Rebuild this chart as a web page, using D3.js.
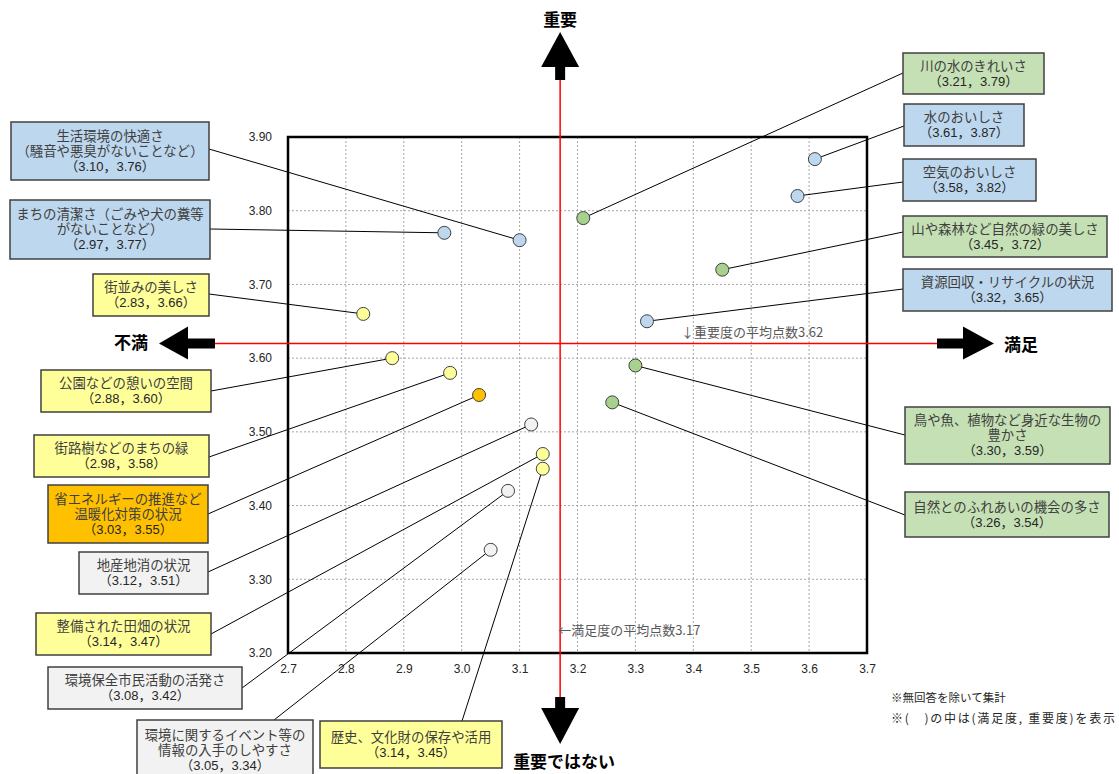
<!DOCTYPE html>
<html>
<head>
<meta charset="utf-8">
<script src="https://cdn.jsdelivr.net/npm/d3@7"></script>
<style>
  body { margin: 0; background: #fff; }
  svg { display: block; }
</style>
</head>
<body>
<svg id="chart" width="1119" height="774"></svg>
<script>
// ---- data -------------------------------------------------------------
// item name, split into the lines shown in its callout box
const itemNames = [
  ["生活環境の快適さ", "（騒音や悪臭がないことなど）"],
  ["まちの清潔さ（ごみや犬の糞等", "がないことなど）"],
  ["街並みの美しさ"],
  ["公園などの憩いの空間"],
  ["街路樹などのまちの緑"],
  ["省エネルギーの推進など", "温暖化対策の状況"],
  ["地産地消の状況"],
  ["整備された田畑の状況"],
  ["環境保全市民活動の活発さ"],
  ["環境に関するイベント等の", "情報の入手のしやすさ"],
  ["歴史、文化財の保存や活用"],
  ["川の水のきれいさ"],
  ["水のおいしさ"],
  ["空気のおいしさ"],
  ["山や森林など自然の緑の美しさ"],
  ["資源回収・リサイクルの状況"],
  ["鳥や魚、植物など身近な生物の", "豊かさ"],
  ["自然とのふれあいの機会の多さ"]
];
// 満足度 (x)
const satisfaction = [3.10, 2.97, 2.83, 2.88, 2.98, 3.03, 3.12, 3.14, 3.08, 3.05, 3.14,
                      3.21, 3.61, 3.58, 3.45, 3.32, 3.30, 3.26];
// 重要度 (y)
const importance   = [3.76, 3.77, 3.66, 3.60, 3.58, 3.55, 3.51, 3.47, 3.42, 3.34, 3.45,
                      3.79, 3.87, 3.82, 3.72, 3.65, 3.59, 3.54];
// colour group of each item
const itemGroups   = ["blue", "blue", "yellow", "yellow", "yellow", "orange", "grey", "yellow", "grey", "grey", "yellow",
                      "green", "blue", "blue", "green", "blue", "green", "green"];

const xTickValues = [2.7, 2.8, 2.9, 3.0, 3.1, 3.2, 3.3, 3.4, 3.5, 3.6, 3.7];
const yTickValues = [3.2, 3.3, 3.4, 3.5, 3.6, 3.7, 3.8, 3.9];

const meanSatisfaction = 3.17;
const meanImportance = 3.62;

const quadrantLabels = { up: "重要", down: "重要ではない", left: "不満", right: "満足" };
const meanLabels = { importance: "↓重要度の平均点数", satisfaction: "←満足度の平均点数" };
const notes = ["※無回答を除いて集計", "※(　)の中は(満足度, 重要度)を表示"];

// ---- styles / layout ----------------------------------------------------
const groupColors = {
  blue:   { box: "#bdd7ee", dot: "#bdd7ee" },
  green:  { box: "#c5e0b4", dot: "#a9d18e" },
  yellow: { box: "#ffff99", dot: "#ffff99" },
  orange: { box: "#ffc000", dot: "#ffc000" },
  grey:   { box: "#f2f2f2", dot: "#f2f2f2" }
};

// callout boxes: [x, y, w, h, side the leader leaves from, offset along that side]
const callouts = [
  [11, 122, 198, 58, "right", 27],
  [10, 200, 200, 59, "right", 29],
  [93, 274, 116, 42, "right", 20],
  [41, 370, 170, 42, "right", 21],
  [34, 435, 175, 42, "right", 22],
  [48, 485, 160, 58, "right", 29],
  [79, 552, 129, 42, "right", 20],
  [36, 613, 175, 42, "right", 21],
  [48, 667, 194, 42, "right", 21],
  [137, 720, 176, 60, "top", 137],
  [320, 721, 182, 47, "top", 142],
  [903, 53, 141, 41, "left", 20],
  [904, 104, 120, 42, "left", 22],
  [903, 159, 133, 42, "left", 23],
  [903, 216, 204, 41, "left", 16],
  [903, 269, 209, 42, "left", 20],
  [905, 407, 205, 57, "left", 28],
  [905, 492, 204, 45, "left", 23]
];

const CJK = "'Noto Sans CJK JP', 'Noto Sans', sans-serif";
const LATIN = "'Liberation Sans', Arial, sans-serif";
const BOXFONT = "'Liberation Sans', 'Noto Sans CJK JP', sans-serif";

const svg = d3.select("#chart");

const plot = { left: 288, right: 867, top: 137, bottom: 653 };
const x = d3.scaleLinear().domain([2.7, 3.7]).range([plot.left, plot.right]);
const y = d3.scaleLinear().domain([3.2, 3.9]).range([plot.bottom, plot.top]);

// ---- grid ---------------------------------------------------------------
const grid = svg.append("g").attr("stroke", "#a6a6a6").attr("stroke-width", 1)
  .attr("stroke-dasharray", "2,2").attr("fill", "none");
grid.selectAll("line.gx").data(xTickValues.slice(1, -1)).join("line")
  .attr("x1", d => x(d)).attr("x2", d => x(d))
  .attr("y1", plot.top).attr("y2", plot.bottom);
grid.selectAll("line.gy").data(yTickValues.slice(1, -1)).join("line")
  .attr("y1", d => y(d)).attr("y2", d => y(d))
  .attr("x1", plot.left).attr("x2", plot.right);

// ---- axes ---------------------------------------------------------------
const yAxis = svg.append("g").attr("transform", `translate(${plot.left},0)`)
  .call(d3.axisLeft(y).tickValues(yTickValues).tickSize(0).tickPadding(16).tickFormat(d3.format(".2f")));
const xAxis = svg.append("g").attr("transform", `translate(0,${plot.bottom})`)
  .call(d3.axisBottom(x).tickValues(xTickValues).tickSize(0).tickPadding(11).tickFormat(d3.format(".1f")));
[xAxis, yAxis].forEach(a => {
  a.select(".domain").remove();
  a.selectAll("text").attr("font-family", LATIN).attr("font-size", 12).attr("fill", "#262626");
});

// plot frame
svg.append("rect")
  .attr("x", plot.left).attr("y", plot.top)
  .attr("width", plot.right - plot.left).attr("height", plot.bottom - plot.top)
  .attr("fill", "none").attr("stroke", "#000").attr("stroke-width", 2.5);

// ---- mean lines ---------------------------------------------------------
const mx = x(meanSatisfaction), my = y(meanImportance);
svg.append("line").attr("x1", mx).attr("x2", mx).attr("y1", 80).attr("y2", 697)
  .attr("stroke", "#ff0000").attr("stroke-width", 1.5);
svg.append("line").attr("x1", 215).attr("x2", 937).attr("y1", my).attr("y2", my)
  .attr("stroke", "#ff0000").attr("stroke-width", 1.5);

// ---- direction arrows ---------------------------------------------------
const arrows = svg.append("g").attr("fill", "#000");
// up
arrows.append("path").attr("d",
  `M${mx - 5},80 L${mx - 5},67 L${mx - 19},67 L${mx},32 L${mx + 19},67 L${mx + 5},67 L${mx + 5},80 Z`);
// down
arrows.append("path").attr("d",
  `M${mx - 5},697 L${mx - 5},708 L${mx - 19},708 L${mx},744 L${mx + 19},708 L${mx + 5},708 L${mx + 5},697 Z`);
// left
arrows.append("path").attr("d",
  `M215,${my - 5} L188,${my - 5} L188,${my - 17} L159,${my} L188,${my + 16} L188,${my + 5} L215,${my + 5} Z`);
// right
arrows.append("path").attr("d",
  `M937,${my - 5} L963,${my - 5} L963,${my - 17} L994,${my} L963,${my + 16} L963,${my + 5} L937,${my + 5} Z`);

const dirText = (t, px, py) => svg.append("text").text(t)
  .attr("x", px).attr("y", py).attr("text-anchor", "middle").attr("dominant-baseline", "central")
  .attr("font-family", CJK).attr("font-size", 17).attr("font-weight", 700).attr("fill", "#000");
dirText(quadrantLabels.up, mx, 18);
dirText(quadrantLabels.down, mx + 4, 760);
dirText(quadrantLabels.left, 131, my - 2);
dirText(quadrantLabels.right, 1021, my);

// mean labels
svg.append("text").text(meanLabels.importance + meanImportance.toFixed(2))
  .attr("x", 681).attr("y", my - 12).attr("dominant-baseline", "central")
  .attr("font-family", CJK).attr("font-size", 13).attr("fill", "#595959");
svg.append("text").text(meanLabels.satisfaction + meanSatisfaction.toFixed(2))
  .attr("x", mx - 2).attr("y", 629).attr("dominant-baseline", "central")
  .attr("font-family", CJK).attr("font-size", 13).attr("fill", "#595959");

// ---- callouts -----------------------------------------------------------
const items = satisfaction.map((s, i) => ({
  s, v: importance[i], lines: itemNames[i], group: itemGroups[i], box: callouts[i]
}));

const anchorOf = b => {
  const [bx, by, bw, bh, side, off] = b;
  if (side === "right") return [bx + bw, by + off];
  if (side === "left") return [bx, by + off];
  return [bx + off, by];
};

// leader lines
svg.append("g").selectAll("line").data(items).join("line")
  .attr("x1", d => anchorOf(d.box)[0]).attr("y1", d => anchorOf(d.box)[1])
  .attr("x2", d => x(d.s)).attr("y2", d => y(d.v))
  .attr("stroke", "#000").attr("stroke-width", 1);

// boxes with text
const boxG = svg.append("g").selectAll("g").data(items).join("g");
boxG.append("rect")
  .attr("x", d => d.box[0]).attr("y", d => d.box[1])
  .attr("width", d => d.box[2]).attr("height", d => d.box[3])
  .attr("fill", d => groupColors[d.group].box)
  .attr("stroke", "#404040").attr("stroke-width", 1.5);

const LH = 15;
boxG.each(function (d) {
  const lines = d.lines.concat([`（${d.s.toFixed(2)}，${d.v.toFixed(2)}）`]);
  const cx = d.box[0] + d.box[2] / 2;
  const cy = d.box[1] + d.box[3] / 2;
  const first = cy - (lines.length - 1) * LH / 2;
  d3.select(this).selectAll("text").data(lines).join("text")
    .text(t => t)
    .attr("x", cx)
    .attr("y", (t, k) => first + k * LH + 4.6)
    .attr("text-anchor", "middle")
    .attr("font-family", BOXFONT)
    .attr("font-size", (t, k) => k === lines.length - 1 ? 13 : 13.4)
    .attr("fill", (t, k) => k === lines.length - 1 ? "#262626" : "#404040");
});

// points
svg.append("g").selectAll("circle").data(items).join("circle")
  .attr("cx", d => x(d.s)).attr("cy", d => y(d.v)).attr("r", 6.5)
  .attr("fill", d => groupColors[d.group].dot)
  .attr("stroke", "#404040").attr("stroke-width", 1);

// ---- notes --------------------------------------------------------------
svg.append("text").text(notes[0])
  .attr("x", 891).attr("y", 697).attr("dominant-baseline", "central")
  .attr("font-family", CJK).attr("font-size", 11.5).attr("fill", "#262626");
svg.append("text").text(notes[1])
  .attr("x", 891).attr("y", 717).attr("dominant-baseline", "central")
  .attr("font-family", CJK).attr("font-size", 12).attr("fill", "#262626")
  .attr("textLength", 224).attr("lengthAdjust", "spacing");
</script>
</body>
</html>
